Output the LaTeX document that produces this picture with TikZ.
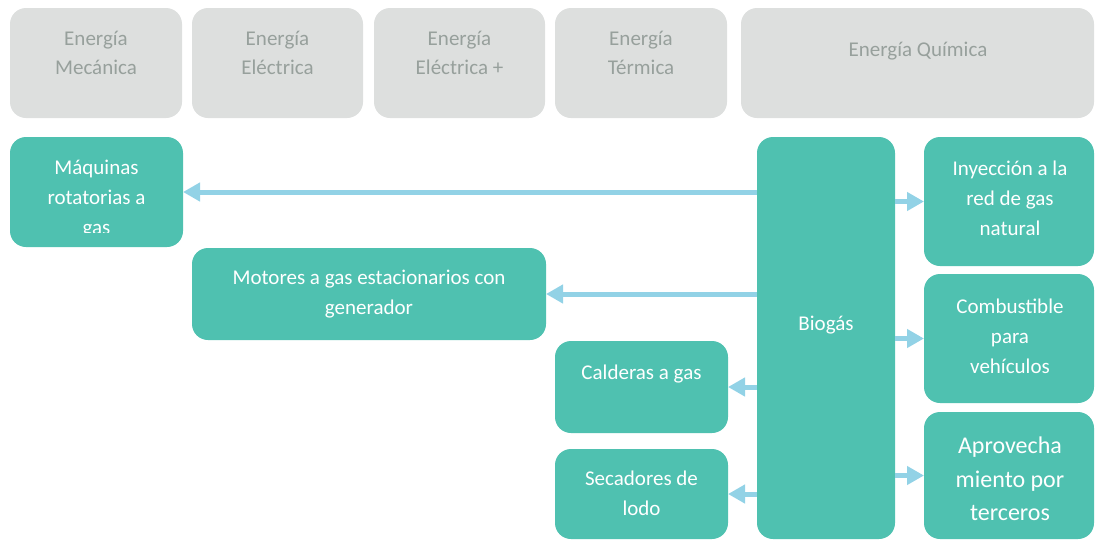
\documentclass[tikz,border=0pt]{standalone}
\usepackage{fontspec}
\setmainfont{Carlito}
\usetikzlibrary{arrows.meta}
\definecolor{teal1}{RGB}{79,193,176}
\definecolor{grey1}{RGB}{221,223,222}
\definecolor{greytxt}{RGB}{151,160,156}
\definecolor{arrblue}{RGB}{146,210,230}
\tikzset{
  gbox/.style={fill=grey1, draw=none, rounded corners=16pt, inner sep=0pt, outer sep=0pt},
  tbox/.style={fill=teal1, draw=none, rounded corners=16pt, inner sep=0pt, outer sep=0pt},
  htxt/.style={text=greytxt, align=center, font=\fontsize{21}{29}\selectfont, inner sep=0pt},
  wtxt/.style={text=white, align=center, font=\fontsize{21}{30}\selectfont, inner sep=0pt},
  arr/.style={draw=arrblue, line width=5pt, -{Triangle[length=17pt,width=18pt]}}
}
\begin{document}
\begin{tikzpicture}[x=1pt,y=-1pt]
\useasboundingbox (0,0) rectangle (1095,539);
% header
\node[gbox, minimum width=172pt, minimum height=110pt] (h1) at (96,63) {};
\node[gbox, minimum width=171pt, minimum height=110pt] (h2) at (277.5,63) {};
\node[gbox, minimum width=171pt, minimum height=110pt] (h3) at (459.5,63) {};
\node[gbox, minimum width=172pt, minimum height=110pt] (h4) at (641,63) {};
\node[gbox, minimum width=353pt, minimum height=110pt] (h5) at (917.5,63) {};
\node[htxt] (t1) at (96,53) {Energía\\Mecánica};
\node[htxt] (t2) at (277.5,53) {Energía\\Eléctrica};
\node[htxt] (t3) at (459.5,53) {Energía\\Eléctrica +};
\node[htxt] (t4) at (641,53) {Energía\\Térmica};
\node[htxt] (t5) at (918,51) {Energía Química};
% green boxes
\node[tbox, minimum width=173pt, minimum height=110pt] (maq) at (96.5,192) {};
\node[tbox, minimum width=354pt, minimum height=92pt] (mot) at (369,294) {};
\node[tbox, minimum width=173pt, minimum height=92pt] (cal) at (641.5,387) {};
\node[tbox, minimum width=173pt, minimum height=90pt] (sec) at (641.5,494) {};
\node[tbox, minimum width=138pt, minimum height=402pt] (bio) at (826,338) {};
\node[tbox, minimum width=170pt, minimum height=129pt] (iny) at (1009,201.5) {};
\node[tbox, minimum width=170pt, minimum height=129pt] (com) at (1009,338.5) {};
\node[tbox, minimum width=170pt, minimum height=127pt] (apr) at (1009,475.5) {};
% texts
\begin{scope}
\clip (10,137) rectangle (183,232);
\node[wtxt] (tmaq) at (96.5,199) {Máquinas\\rotatorias a\\gas};
\end{scope}
\node[wtxt] (tmot) at (369,294) {Motores a gas estacionarios con\\generador};
\node[wtxt] (tcal) at (641.5,374) {Calderas a gas};
\node[wtxt] (tsec) at (641.5,493.5) {Secadores de\\lodo};
\node[wtxt] (tbio) at (826,325) {Biogás};
\node[wtxt] (tiny) at (1010,198.5) {Inyección a la\\red de gas\\natural};
\node[wtxt] (tcom) at (1010,336.5) {Combustible\\para\\vehículos};
\node[wtxt, font=\fontsize{24}{33.5}\selectfont] (tapr) at (1010,479) {Aprovecha\\miento por\\terceros};
% arrows
\draw[arr] (bio.west |- maq.east) -- (maq.east);
\draw[arr] (bio.west |- mot.east) -- (mot.east);
\draw[arr] (bio.west |- cal.east) -- (cal.east);
\draw[arr] (bio.west |- sec.east) -- (sec.east);
\draw[arr] (bio.east |- iny.west) -- (iny.west);
\draw[arr] (bio.east |- com.west) -- (com.west);
\draw[arr] (bio.east |- apr.west) -- (apr.west);
\end{tikzpicture}
\end{document}
